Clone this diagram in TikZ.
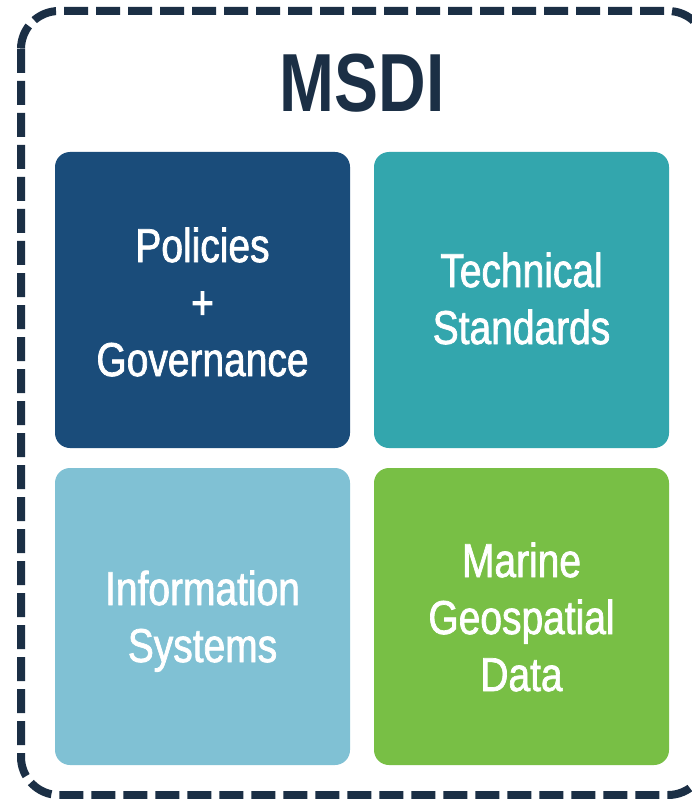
\documentclass[tikz,border=0pt]{standalone}
\usepackage{fontspec}
\newfontfamily\boxfont{Liberation Sans}[FakeStretch=0.82,FakeBold=1.5]
\newfontfamily\titlefont{Liberation Sans Bold}[FakeStretch=0.8]
\definecolor{navy}{HTML}{1B2F45}
\definecolor{c1}{HTML}{1A4C7A}
\definecolor{c2}{HTML}{33A6AD}
\definecolor{c3}{HTML}{80C1D4}
\definecolor{c4}{HTML}{78BF45}
\begin{document}
\begin{tikzpicture}[x=1pt,y=-1pt,
  tile/.style={rounded corners=15pt},
  lbl/.style={anchor=base,inner sep=0pt,text=white,font=\boxfont\fontsize{47.5}{57}\selectfont}]
\useasboundingbox (0,0) rectangle (692,799);
\clip (0,0) rectangle (692,799);
\fill[white] (0,0) rectangle (692,799);
\draw[navy,line width=8pt,dash pattern=on 24pt off 8pt,rounded corners=38pt] (21,11) rectangle (706,795);
\node[anchor=base,inner sep=0pt,text=navy,font=\titlefont\fontsize{82.4}{90}\selectfont] (title) at (362,112) {MSDI};
\fill[c1,tile] (55,152) rectangle (350,448);
\fill[c2,tile] (374,152) rectangle (669,448);
\fill[c3,tile] (55,468) rectangle (350,765);
\fill[c4,tile] (374,468) rectangle (669,765);
\node[lbl] (p1) at (202.5,262) {Policies};
\node[lbl] (p2) at (202.5,319) {+};
\node[lbl] (p3) at (202.5,376) {Governance};
\node[lbl] (t1) at (521.5,287) {Technical};
\node[lbl] (t2) at (521.5,344) {Standards};
\node[lbl] (i1) at (202.5,605) {Information};
\node[lbl] (i2) at (202.5,662) {Systems};
\node[lbl] (m1) at (521.5,577) {Marine};
\node[lbl] (m2) at (521.5,634) {Geospatial};
\node[lbl] (m3) at (521.5,691) {Data};
\end{tikzpicture}
\end{document}
